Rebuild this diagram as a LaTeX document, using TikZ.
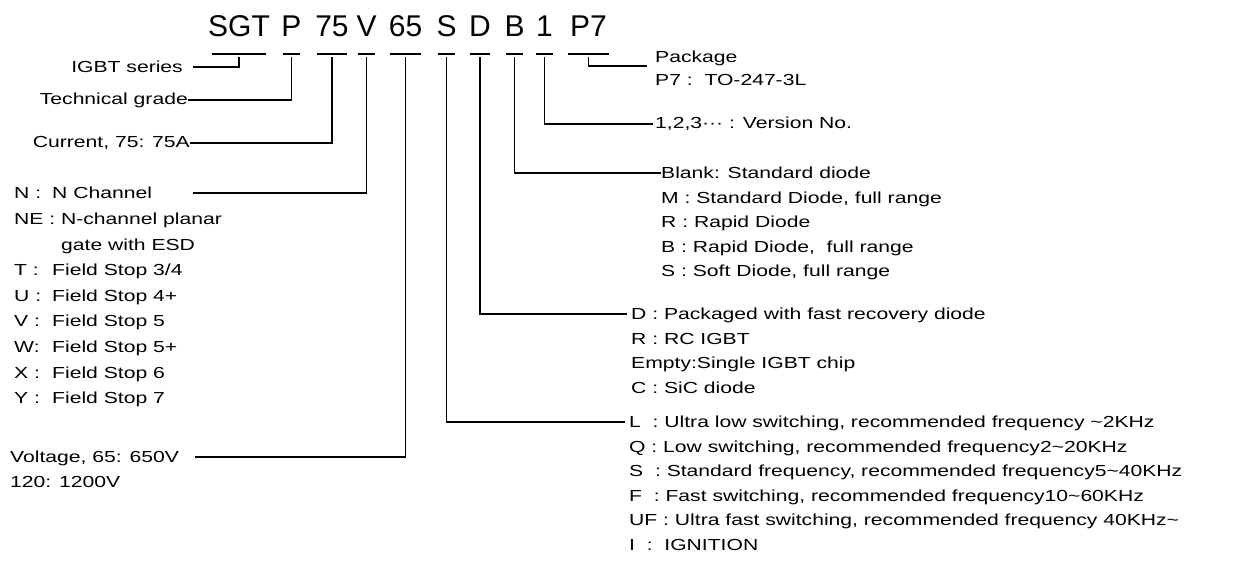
\documentclass[tikz,border=0pt]{standalone}
\usepackage{fontspec}
\setmainfont{Liberation Sans}
\newfontfamily\lblfont[FakeStretch=1.32]{Liberation Sans}
\usetikzlibrary{positioning,calc}

\begin{document}
\begin{tikzpicture}[
x=1pt,y=-1pt,
code/.style={font=\fontsize{30}{30}\selectfont,inner ysep=0pt,inner xsep=-1.5pt,minimum width=17pt,anchor=base},
lbl/.style={font=\lblfont\fontsize{16}{24.5}\selectfont,inner sep=0pt,align=left},
link/.style={line width=1.1pt},
uline/.style={line width=1.1pt}
]
\useasboundingbox (0,0) rectangle (1236,563);

% part number
\node[code,inner xsep=-4pt] (sgt) at (239,36) {SGT};
\node[code] (p) at (291.5,36) {P};
\node[code] (cur75) at (332,36) {75};
\node[code] (v) at (366.5,36) {V};
\node[code] (volt65) at (405.5,36) {65};
\node[code] (s) at (446.5,36) {S};
\node[code] (d) at (480,36) {D};
\node[code] (b) at (514.5,36) {B};
\node[code] (one) at (544.5,36) {1};
\node[code,minimum width=41pt] (p7) at (588.5,36) {P7};
\foreach \c in {sgt,p,cur75,v,volt65,s,d,b,one,p7}
  \draw[uline] ([yshift=-18pt]\c.base west) -- ([yshift=-18pt]\c.base east);

% left labels
\node[lbl,anchor=east] (igbt) at (183,67) {IGBT series};
\node[lbl,anchor=east] (tech) at (188,100) {Technical grade};
\node[lbl,anchor=east] (curr) at (190,143) {Current, 75: 75A};
\node[lbl,anchor=north west,font=\lblfont\fontsize{16}{25.6}\selectfont] (chan) at (14,187) {%
\makebox[38pt][l]{N :}N Channel\\
NE : N-channel planar\\
\hspace*{47pt}gate with ESD\\
\makebox[38pt][l]{T :}Field Stop 3/4\\
\makebox[38pt][l]{U :}Field Stop 4+\\
\makebox[38pt][l]{V :}Field Stop 5\\
\makebox[38pt][l]{W:}Field Stop 5+\\
\makebox[38pt][l]{X :}Field Stop 6\\
\makebox[38pt][l]{Y :}Field Stop 7};
\node[lbl,anchor=north west] (volt) at (10,451) {Voltage, 65: 650V\\120: 1200V};
\coordinate (chanend) at (193,193);
\coordinate (voltend) at (195,457);

% right labels
\node[lbl,anchor=south west] (pkg) at (655,66) {Package};
\node[lbl,anchor=north west] (pkgp7) at (655,74) {P7 :\ \ TO-247-3L};
\node[lbl,anchor=west] (ver) at (655,124) {1,2,3··· : Version No.};
\node[lbl,anchor=north west] (diode) at (661,167) {%
Blank: Standard diode\\
M : Standard Diode, full range\\
R : Rapid Diode\\
B : Rapid Diode,\ \ full range\\
S : Soft Diode, full range};
\node[lbl,anchor=north west] (pack) at (631,308) {%
D : Packaged with fast recovery diode\\
R : RC IGBT\\
Empty:Single IGBT chip\\
C : SiC diode};
\node[lbl,anchor=north west] (freq) at (629,416) {%
L\ \ : Ultra low switching, recommended frequency \textasciitilde2KHz\\
Q : Low switching, recommended frequency2\textasciitilde20KHz\\
S\ \ : Standard frequency, recommended frequency5\textasciitilde40KHz\\
F\ \ : Fast switching, recommended frequency10\textasciitilde60KHz\\
UF : Ultra fast switching, recommended frequency 40KHz\textasciitilde\\
I\ \ :\ \ IGNITION};

% connectors
\draw[link] ([yshift=-21pt]sgt.base) |- ([xshift=10pt]igbt.east);
\draw[link] ([yshift=-21pt]p.base) |- (tech.east);
\draw[link] ([yshift=-21pt]cur75.base) |- (curr.east);
\draw[link] ([yshift=-21pt]v.base) |- (chanend);
\draw[link] ([yshift=-21pt]volt65.base) |- (voltend);
\draw[link] ([yshift=-21pt]p7.base) |- ([xshift=-8pt]pkg.south west);
\draw[link] ([yshift=-21pt]one.base) |- ([xshift=-2pt]ver.west);
\draw[link] ([yshift=-21pt]b.base) |- ([yshift=-6pt]diode.north west);
\draw[link] ([yshift=-21pt]d.base) |- ([xshift=-4pt,yshift=-6pt]pack.north west);
\draw[link] ([yshift=-21pt]s.base) |- ([xshift=-4pt,yshift=-6pt]freq.north west);
\end{tikzpicture}
\end{document}
